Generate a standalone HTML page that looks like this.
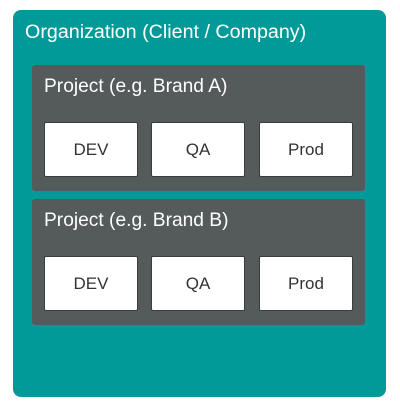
<!DOCTYPE html>
<html><head><style>
body{margin:0;width:400px;height:410px;background:#fff;position:relative;font-family:"Liberation Sans",sans-serif;overflow:hidden}
.o{position:absolute;left:13px;top:10px;width:373px;height:387px;background:#019a99;border-radius:8px}
.t{position:absolute;color:#fff;white-space:nowrap}
.p{position:absolute;left:32px;width:333px;height:126px;background:#555a5a;border-radius:3px}
.b{position:absolute;width:92px;height:53px;background:#fff;border:1px solid #3a3d3d;border-radius:2px;color:#333;font-size:17px;text-align:center;line-height:53px}
</style></head><body>
<div class="o"></div>
<div class="t" style="left:25px;top:21px;font-size:19.7px">Organization (Client / Company)</div>
<div class="p" style="top:65px"></div>
<div class="t" style="left:44px;top:76px;font-size:19.2px">Project (e.g. Brand A)</div>
<div class="b" style="left:44px;top:122px">DEV</div>
<div class="b" style="left:151px;top:122px">QA</div>
<div class="b" style="left:259px;top:122px">Prod</div>
<div class="p" style="top:199px"></div>
<div class="t" style="left:44px;top:210px;font-size:19.2px">Project (e.g. Brand B)</div>
<div class="b" style="left:44px;top:256px">DEV</div>
<div class="b" style="left:151px;top:256px">QA</div>
<div class="b" style="left:259px;top:256px">Prod</div>
</body></html>
